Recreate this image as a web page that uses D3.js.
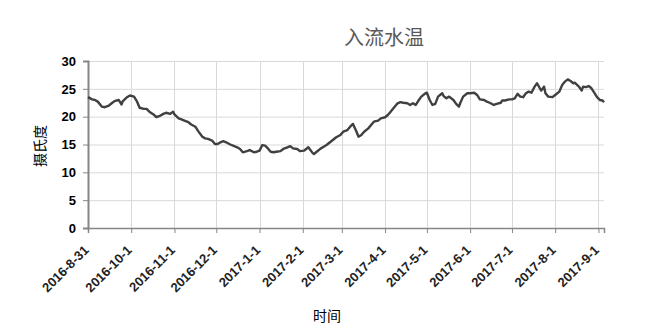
<!DOCTYPE html>
<html><head><meta charset="utf-8">
<script src="https://cdn.jsdelivr.net/npm/d3@7"></script>
<style>
html,body{margin:0;padding:0;background:#fff;}
svg{display:block;}
</style></head>
<body><svg id="c" width="646" height="328"></svg>
<script>
const title = "入流水温";
const yLabel = "摄氏度";
const xLabel = "时间";
const yTicks = [0, 5, 10, 15, 20, 25, 30];
const xTickLabels = ["2016-8-31","2016-10-1","2016-11-1","2016-12-1","2017-1-1","2017-2-1","2017-3-1","2017-4-1","2017-5-1","2017-6-1","2017-7-1","2017-8-1","2017-9-1"];
const xDomain = ["2016-8-31", "2017-9-5"];
const dates = [
"2016-8-31","2016-9-3","2016-9-5","2016-9-7","2016-9-10","2016-9-12","2016-9-15","2016-9-17","2016-9-19","2016-9-22","2016-9-24","2016-9-25","2016-9-28","2016-9-30",
"2016-10-3","2016-10-5","2016-10-7","2016-10-10","2016-10-12","2016-10-14","2016-10-17","2016-10-19","2016-10-22","2016-10-24","2016-10-26","2016-10-29","2016-10-31",
"2016-11-1","2016-11-4","2016-11-6","2016-11-9","2016-11-11","2016-11-13","2016-11-16","2016-11-18","2016-11-21","2016-11-23","2016-11-25","2016-11-28","2016-11-30",
"2016-12-2","2016-12-4","2016-12-6","2016-12-8","2016-12-11","2016-12-13","2016-12-16","2016-12-18","2016-12-20","2016-12-23","2016-12-25","2016-12-28","2016-12-30",
"2017-1-1","2017-1-3","2017-1-5","2017-1-7","2017-1-9","2017-1-11","2017-1-13","2017-1-16","2017-1-18","2017-1-21","2017-1-23","2017-1-25","2017-1-28","2017-1-30",
"2017-2-2","2017-2-3","2017-2-5","2017-2-8","2017-2-9","2017-2-11","2017-2-14","2017-2-16","2017-2-18","2017-2-21","2017-2-23","2017-2-25","2017-2-28",
"2017-3-2","2017-3-5","2017-3-7","2017-3-9","2017-3-11","2017-3-13","2017-3-15","2017-3-17","2017-3-20","2017-3-22","2017-3-24","2017-3-27","2017-3-29",
"2017-4-1","2017-4-3","2017-4-5","2017-4-7","2017-4-10","2017-4-12","2017-4-14","2017-4-17","2017-4-19","2017-4-21","2017-4-23","2017-4-25","2017-4-27","2017-4-30",
"2017-5-1","2017-5-3","2017-5-5","2017-5-7","2017-5-9","2017-5-12","2017-5-13","2017-5-15","2017-5-17","2017-5-20","2017-5-22","2017-5-24","2017-5-25","2017-5-27","2017-5-30",
"2017-6-1","2017-6-4","2017-6-6","2017-6-8","2017-6-11","2017-6-13","2017-6-15","2017-6-18","2017-6-20","2017-6-23","2017-6-24","2017-6-26","2017-6-29",
"2017-7-1","2017-7-3","2017-7-5","2017-7-7","2017-7-9","2017-7-11","2017-7-13","2017-7-15","2017-7-17","2017-7-19","2017-7-21","2017-7-22","2017-7-24","2017-7-25","2017-7-27","2017-7-30",
"2017-8-1","2017-8-4","2017-8-6","2017-8-8","2017-8-10","2017-8-12","2017-8-14","2017-8-15","2017-8-18","2017-8-20","2017-8-21","2017-8-23","2017-8-25","2017-8-27","2017-8-29","2017-8-31",
"2017-9-2","2017-9-4","2017-9-5"];
const temps = [
23.5,23.1,23.0,22.7,21.8,21.7,22.0,22.4,22.8,23.0,22.2,22.8,23.5,23.8,
23.6,22.8,21.6,21.4,21.4,20.9,20.4,19.9,20.2,20.5,20.7,20.5,20.9,
20.4,19.7,19.5,19.2,19.0,18.6,18.2,17.4,16.4,16.1,16.0,15.7,15.1,
15.1,15.4,15.6,15.4,15.0,14.8,14.5,14.2,13.6,13.8,14.0,13.6,13.7,
13.9,14.9,14.8,14.3,13.7,13.6,13.7,13.8,14.2,14.5,14.7,14.3,14.2,13.8,
13.9,14.1,14.5,13.5,13.3,13.7,14.3,14.6,14.9,15.5,15.9,16.3,16.7,
17.3,17.6,18.2,18.7,17.6,16.4,16.7,17.3,17.9,18.5,19.1,19.3,19.7,
19.9,20.3,20.9,21.5,22.4,22.6,22.5,22.4,22.1,22.4,22.1,22.9,23.6,24.2,
24.3,23.0,22.1,22.3,23.6,24.2,23.7,23.3,23.6,23.0,22.3,21.8,22.5,23.6,24.2,
24.2,24.3,23.9,23.1,23.0,22.7,22.5,22.1,22.3,22.5,22.9,22.9,23.1,
23.1,23.3,24.1,23.6,23.5,24.2,24.5,24.3,25.3,26.0,25.1,24.7,25.4,24.2,23.6,23.5,
23.9,24.5,25.7,26.3,26.7,26.4,26.0,26.1,25.4,24.7,25.4,25.3,25.5,25.1,24.3,23.5,
23.0,22.9,22.6];

function parseD(s){ const p = s.split("-").map(Number); return new Date(p[0], p[1]-1, p[2]); }
const data = dates.map((d,i)=>({date: parseD(d), v: temps[i]}));

const svg = d3.select("#c");
const m = {left: 88, right: 604, top: 61, bottom: 228};

const x = d3.scaleTime().domain(xDomain.map(parseD)).range([m.left, m.right]);
const y = d3.scaleLinear().domain([0, 30]).range([m.bottom, m.top]);
const xTicks = xTickLabels.map(parseD);

// grid
const g = svg.append("g");
g.selectAll(".hg").data(yTicks.filter(t=>t>0)).join("line")
  .attr("x1", m.left).attr("x2", m.right)
  .attr("y1", d=>y(d)+0.5).attr("y2", d=>y(d)+0.5)
  .attr("stroke", "#d9d9d9").attr("stroke-width", 1);
g.selectAll(".vg").data(xTicks.slice(1)).join("line")
  .attr("x1", d=>Math.round(x(d))+0.5).attr("x2", d=>Math.round(x(d))+0.5)
  .attr("y1", m.top).attr("y2", m.bottom)
  .attr("stroke", "#d9d9d9").attr("stroke-width", 1);

// y axis
const yAxis = svg.append("g").attr("transform", `translate(${m.left},0)`)
  .call(d3.axisLeft(y).tickValues(yTicks).tickSize(5).tickPadding(7));
yAxis.select(".domain").attr("stroke", "#868686").attr("stroke-width", 2);
yAxis.selectAll(".tick line").attr("stroke", "#868686");
yAxis.selectAll("text").attr("fill", "#000").style("font-family", "Liberation Sans, Arial, sans-serif")
  .style("font-size", "13px").style("font-weight", "bold");

// x axis
const xAxis = svg.append("g").attr("transform", `translate(0,${m.bottom})`)
  .call(d3.axisBottom(x).tickValues(xTicks).tickSize(5).tickFormat((d,i)=>xTickLabels[i]));
xAxis.select(".domain").attr("stroke", "#868686").attr("stroke-width", 1.5);
xAxis.selectAll(".tick line").attr("stroke", "#868686");
xAxis.selectAll("text").attr("fill", "#222")
  .style("font-family", "Liberation Sans, Arial, sans-serif")
  .style("font-size", "13px").style("font-weight", "bold")
  .attr("text-anchor", "end").attr("dy", null).attr("y", 0)
  .attr("transform", "translate(1,23) rotate(-45)");

// line
svg.append("path").datum(data)
  .attr("fill", "none").attr("stroke", "#404040").attr("stroke-width", 2.4)
  .attr("stroke-linejoin", "round")
  .attr("d", d3.line().x(d=>x(d.date)).y(d=>y(d.v)));

// titles
svg.append("text").attr("x", 384).attr("y", 45).attr("text-anchor", "middle")
  .style("font-family", "Noto Sans CJK SC, sans-serif").style("font-size", "20px")
  .attr("fill", "#595959").text(title);
svg.append("text").attr("transform", "translate(45,146) rotate(-90)").attr("text-anchor", "middle")
  .style("font-family", "Noto Sans CJK SC, sans-serif").style("font-size", "14px")
  .attr("fill", "#000").text(yLabel);
svg.append("text").attr("x", 327).attr("y", 321).attr("text-anchor", "middle")
  .style("font-family", "Noto Sans CJK SC, sans-serif").style("font-size", "14px")
  .attr("fill", "#000").text(xLabel);
</script></body></html>
